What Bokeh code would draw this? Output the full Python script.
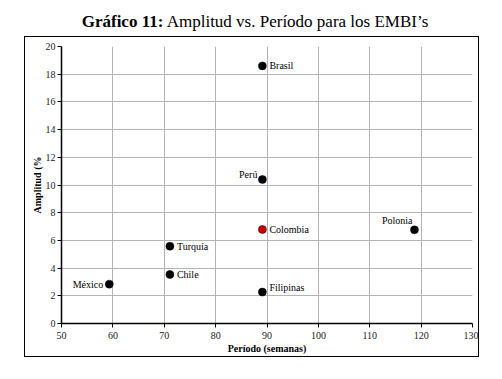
from bokeh.plotting import figure
from bokeh.models import ColumnDataSource, Range1d, Div
from bokeh.layouts import column
from bokeh.core.properties import value
from bokeh.embed import file_html
from bokeh.resources import INLINE

# Data
paises = ["México", "Chile", "Turquía", "Perú", "Colombia", "Filipinas", "Brasil", "Polonia"]
periodo = [59.3, 71.1, 71.1, 89.1, 89.1, 89.1, 89.1, 118.7]
amplitud = [2.84, 3.54, 5.58, 10.4, 6.79, 2.27, 18.6, 6.76]
x_ticks = [50, 60, 70, 80, 90, 100, 110, 120, 130]
y_ticks = [0, 2, 4, 6, 8, 10, 12, 14, 16, 18, 20]

FONT = "'Liberation Serif', 'Times New Roman', serif"

# label placement (style only)
colors = ["black" if p != "Colombia" else "#d00000" for p in paises]
align = {"México": "right", "Perú": "right", "Polonia": "right"}
xoff = {"México": -6, "Perú": -5, "Polonia": -2}
yoff = {"Perú": -5, "Filipinas": -5, "Polonia": -9}
text_align = [align.get(p, "left") for p in paises]
x_offset = [xoff.get(p, 7) for p in paises]
y_offset = [yoff.get(p, 0) for p in paises]

src = ColumnDataSource(dict(x=periodo, y=amplitud, name=paises, color=colors,
                            ta=text_align, xo=x_offset, yo=y_offset))

p = figure(frame_width=409, frame_height=275, output_backend="svg", toolbar_location=None,
           x_range=Range1d(50, 130), y_range=Range1d(0, 20),
           min_border_left=36, min_border_right=8, min_border_top=9, min_border_bottom=35)
p.margin = (0, 0, 0, 24)
p.styles = {"border": "1px solid black"}
p.outline_line_color = None
p.background_fill_color = "white"
p.border_fill_color = "white"

p.xaxis.ticker = x_ticks
p.yaxis.ticker = y_ticks
for ax in (p.xaxis[0], p.yaxis[0]):
    ax.axis_line_color = "black"
    ax.axis_line_width = 1.5
    ax.major_tick_line_color = "black"
    ax.major_tick_in = 0
    ax.major_tick_out = 4
    ax.minor_tick_line_color = None
    ax.major_label_text_font = FONT
    ax.major_label_text_font_size = "10px"
    ax.major_label_text_color = "#222222"
    ax.axis_label_text_font = FONT
    ax.axis_label_text_font_size = "10px"
    ax.axis_label_text_font_style = "bold"
    ax.axis_label_text_color = "black"
p.xaxis.axis_label = "Período (semanas)"
p.yaxis.axis_label = "Amplitud (%"
p.xaxis.axis_label_standoff = 1
p.yaxis.axis_label_standoff = 0
p.xaxis.major_label_standoff = 4
p.yaxis.major_label_standoff = 2

p.grid.grid_line_color = "#b4b4b4"
p.grid.grid_line_width = 1

p.scatter("x", "y", source=src, size=8, fill_color="color", line_color="black", line_width=0.5)
p.text("x", "y", text="name", source=src, text_align="ta", text_baseline="middle",
       x_offset="xo", y_offset="yo", text_font=value(FONT), text_font_size="10px",
       text_color="black")

title = Div(text="<b>Gráfico 11:</b> Amplitud vs. Período para los EMBI’s",
            width=486, height=26,
            styles={"text-align": "center", "font-family": FONT, "font-size": "17px",
                    "color": "black", "width": "486px", "line-height": "33px",
                    "overflow": "visible", "text-indent": "14px"})

layout = column(title, p, spacing=0)
open("out.html", "w").write(file_html(layout, INLINE))
